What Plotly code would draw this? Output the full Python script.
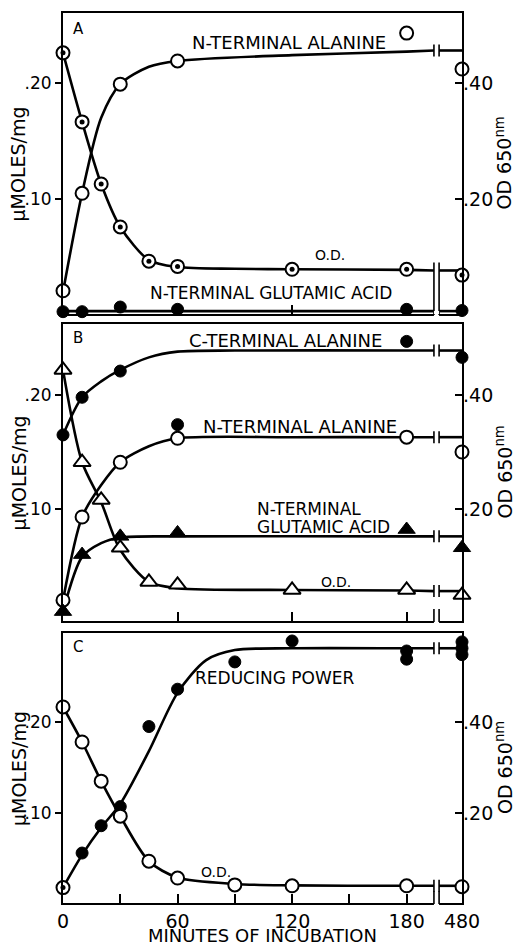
import plotly.graph_objects as go

# ---------------- data (minutes of incubation, µmoles/mg or OD650) ----------------
# Panel A
A_ALA_T = [0, 10, 30, 60, 180, 480]
A_ALA_V = [0.021, 0.105, 0.199, 0.219, 0.243, 0.212]
A_OD_T = [0, 10, 20, 30, 45, 60, 120, 180, 480]
A_OD_V = [0.452, 0.333, 0.226, 0.152, 0.093, 0.084, 0.079, 0.079, 0.069]
A_GLU_T = [0, 10, 30, 60, 180, 480]
A_GLU_V = [0.003, 0.003, 0.007, 0.005, 0.005, 0.004]
# drawn curves panel A
A_ALA_FIT_T = [0, 10, 20, 30, 45, 60, 120, 180]
A_ALA_FIT_V = [0.020, 0.105, 0.170, 0.199, 0.214, 0.219, 0.224, 0.227]
A_ALA_FIT_480 = 0.228
A_OD_FIT_T = [0, 10, 20, 30, 45, 60, 90, 120, 180]
A_OD_FIT_V = [0.452, 0.333, 0.226, 0.152, 0.095, 0.083, 0.080, 0.079, 0.078]
A_OD_FIT_480 = 0.077
A_GLU_FIT_T = [0, 180]
A_GLU_FIT_V = [0.0035, 0.0035]
A_GLU_FIT_480 = 0.0035

# Panel B
B_CALA_T = [0, 10, 30, 60, 180, 480]
B_CALA_V = [0.165, 0.198, 0.221, 0.174, 0.247, 0.233]
B_NALA_T = [0, 10, 30, 60, 180, 480]
B_NALA_V = [0.020, 0.093, 0.141, 0.162, 0.163, 0.150]
B_GLU_T = [0, 10, 30, 60, 180, 480]
B_GLU_V = [0.010, 0.060, 0.076, 0.079, 0.082, 0.066]
B_OD_T = [0, 10, 20, 30, 45, 60, 120, 180, 480]
B_OD_V = [0.444, 0.282, 0.216, 0.132, 0.072, 0.067, 0.058, 0.058, 0.049]
B_CALA_FIT_T = [0, 10, 20, 30, 45, 60, 90, 180]
B_CALA_FIT_V = [0.165, 0.198, 0.212, 0.222, 0.233, 0.238, 0.239, 0.239]
B_CALA_FIT_480 = 0.239
B_NALA_FIT_T = [0, 10, 20, 30, 45, 60, 120, 180]
B_NALA_FIT_V = [0.020, 0.093, 0.121, 0.141, 0.155, 0.162, 0.163, 0.163]
B_NALA_FIT_480 = 0.163
B_GLU_FIT_T = [0, 10, 20, 30, 60, 180]
B_GLU_FIT_V = [0.010, 0.058, 0.070, 0.075, 0.076, 0.076]
B_GLU_FIT_480 = 0.076
B_OD_FIT_T = [0, 10, 20, 30, 45, 60, 120, 180]
B_OD_FIT_V = [0.444, 0.282, 0.212, 0.128, 0.072, 0.061, 0.058, 0.057]
B_OD_FIT_480 = 0.056

# Panel C
C_RP_T = [0, 10, 20, 30, 45, 60, 90, 120, 180, 180, 480, 480, 480]
C_RP_V = [0.018, 0.056, 0.086, 0.107, 0.195, 0.236, 0.266, 0.289, 0.278, 0.269, 0.288, 0.281, 0.274]
C_OD_T = [0, 10, 20, 30, 45, 60, 90, 120, 180, 480]
C_OD_V = [0.433, 0.356, 0.270, 0.193, 0.094, 0.057, 0.042, 0.040, 0.040, 0.038]
C_RP_FIT_T = [0, 10, 20, 30, 45, 60, 75, 90, 120, 180]
C_RP_FIT_V = [0.018, 0.054, 0.084, 0.110, 0.168, 0.232, 0.268, 0.279, 0.281, 0.281]
C_RP_FIT_480 = 0.281
C_OD_FIT_T = [0, 10, 20, 30, 45, 60, 90, 120, 180]
C_OD_FIT_V = [0.433, 0.356, 0.270, 0.193, 0.094, 0.058, 0.044, 0.041, 0.040]
C_OD_FIT_480 = 0.040

X_TICK_MIN = [0, 60, 120, 180, 480]
X_TICK_LABELS = ["0", "60", "120", "180", "480"]
X_MINOR_MIN = [30, 90, 150]

# ---------------- broken x axis mapping ----------------
X480 = 209.0          # position of the 480-min point on the compressed axis
BREAK_L, BREAK_R = 194.3, 197.0


def xp(t):
    return t if t <= 180 else X480


FONT = "DejaVu Sans"
fig = go.Figure()

OPEN_C = dict(symbol="circle", color="white", size=13, line=dict(color="black", width=2))
FILL_C = dict(symbol="circle", color="black", size=12, line=dict(color="black", width=1))
OPEN_T = dict(symbol="triangle-up", color="white", size=15, line=dict(color="black", width=2))
FILL_T = dict(symbol="triangle-up", color="black", size=15, line=dict(color="black", width=1))


def curve(xa, ya, t, v, v480):
    xs = [xp(a) for a in t] + [BREAK_L]
    ys = list(v) + [v480]
    fig.add_trace(go.Scatter(x=xs, y=ys, xaxis=xa, yaxis=ya, mode="lines",
                             line=dict(color="black", width=2.6, shape="spline", smoothing=0.8),
                             hoverinfo="skip", cliponaxis=False))
    fig.add_trace(go.Scatter(x=[BREAK_R, X480], y=[v480, v480], xaxis=xa, yaxis=ya, mode="lines",
                             line=dict(color="black", width=2.6), hoverinfo="skip", cliponaxis=False))


def points(xa, ya, t, v, marker, dot=False):
    fig.add_trace(go.Scatter(x=[xp(a) for a in t], y=v, xaxis=xa, yaxis=ya, mode="markers",
                             marker=marker, cliponaxis=False))
    if dot:
        fig.add_trace(go.Scatter(x=[xp(a) for a in t], y=v, xaxis=xa, yaxis=ya, mode="markers",
                                 marker=dict(symbol="circle", color="black", size=5),
                                 cliponaxis=False))


shapes = []


def line_break(xa, ya, yval, lo=-6, hi=6):
    for bx in (BREAK_L, BREAK_R):
        shapes.append(dict(type="line", xref=xa, yref=ya, x0=bx, x1=bx, ysizemode="pixel",
                           yanchor=yval, y0=lo, y1=hi, line=dict(color="black", width=1.6),
                           layer="above"))


def axis_break(xa, ya, hi=12):
    shapes.append(dict(type="rect", xref=xa, yref=ya + " domain", x0=BREAK_L, x1=BREAK_R,
                       ysizemode="pixel", yanchor=0, y0=-3, y1=3, fillcolor="white",
                       line=dict(width=0), layer="above"))
    for bx in (BREAK_L, BREAK_R):
        shapes.append(dict(type="line", xref=xa, yref=ya + " domain", x0=bx, x1=bx,
                           ysizemode="pixel", yanchor=0, y0=-1, y1=hi,
                           line=dict(color="black", width=1.6), layer="above"))


# Panel A (x, y left, y2 right)
curve("x", "y", A_ALA_FIT_T, A_ALA_FIT_V, A_ALA_FIT_480)
curve("x", "y2", A_OD_FIT_T, A_OD_FIT_V, A_OD_FIT_480)
curve("x", "y", A_GLU_FIT_T, A_GLU_FIT_V, A_GLU_FIT_480)
points("x", "y", A_GLU_T, A_GLU_V, FILL_C)
points("x", "y", A_ALA_T, A_ALA_V, OPEN_C)
points("x", "y2", A_OD_T, A_OD_V, OPEN_C, dot=True)
line_break("x", "y", A_ALA_FIT_480)
line_break("x", "y2", A_OD_FIT_480, lo=-46, hi=8)
axis_break("x", "y", hi=0)

# Panel B (x2, y3 left, y4 right)
curve("x2", "y3", B_CALA_FIT_T, B_CALA_FIT_V, B_CALA_FIT_480)
curve("x2", "y3", B_NALA_FIT_T, B_NALA_FIT_V, B_NALA_FIT_480)
curve("x2", "y3", B_GLU_FIT_T, B_GLU_FIT_V, B_GLU_FIT_480)
curve("x2", "y4", B_OD_FIT_T, B_OD_FIT_V, B_OD_FIT_480)
points("x2", "y3", B_CALA_T, B_CALA_V, FILL_C)
points("x2", "y3", B_NALA_T, B_NALA_V, OPEN_C)
points("x2", "y3", B_GLU_T, B_GLU_V, FILL_T)
points("x2", "y4", B_OD_T, B_OD_V, OPEN_T)
line_break("x2", "y3", B_CALA_FIT_480)
line_break("x2", "y3", B_NALA_FIT_480)
line_break("x2", "y3", B_GLU_FIT_480)
line_break("x2", "y4", B_OD_FIT_480)
axis_break("x2", "y3")

# Panel C (x3, y5 left, y6 right)
curve("x3", "y5", C_RP_FIT_T, C_RP_FIT_V, C_RP_FIT_480)
curve("x3", "y6", C_OD_FIT_T, C_OD_FIT_V, C_OD_FIT_480)
points("x3", "y5", C_RP_T[1:], C_RP_V[1:], FILL_C)
points("x3", "y5", C_RP_T[:1], C_RP_V[:1], OPEN_C, dot=True)
points("x3", "y6", C_OD_T, C_OD_V, OPEN_C)
line_break("x3", "y5", C_RP_FIT_480)
line_break("x3", "y6", C_OD_FIT_480)
axis_break("x3", "y5")

AX = dict(showgrid=False, zeroline=False, linecolor="black", linewidth=2,
          tickcolor="black", tickwidth=2, tickfont=dict(family=FONT, size=17, color="black"))


def xaxis(anchor, labels=False):
    d = dict(AX, domain=[0, 1], range=[0, X480], anchor=anchor, showline=True, mirror=True,
             ticks="inside", ticklen=9)
    if labels:
        d.update(tickvals=[xp(t) for t in X_TICK_MIN], ticktext=X_TICK_LABELS,
                 tickfont=dict(family=FONT, size=19, color="black"),
                 minor=dict(tickvals=X_MINOR_MIN, ticks="inside", ticklen=9, tickwidth=2,
                            tickcolor="black", showgrid=False))
    else:
        d.update(tickvals=[60, 120, 180], showticklabels=False)
    return d


def yleft(domain, rng, anchor):
    return dict(AX, domain=domain, range=rng, anchor=anchor, showline=True, mirror=True,
                ticks="outside", ticklen=6, tickvals=[0.10, 0.20], ticktext=[".10", ".20"])


def yright(over, rng, anchor):
    return dict(AX, overlaying=over, side="right", range=rng, anchor=anchor, showline=False,
                ticks="inside", ticklen=7, tickvals=[0.20, 0.40], ticktext=[".20", ".40"],
                tickfont=dict(family=FONT, size=19, color="black"))


DA = [0.6618, 1.0]
DB = [0.3169, 0.6506]
DC = [0.0, 0.3034]

fig.update_layout(
    width=518, height=945,
    margin=dict(l=63, r=56, t=13, b=42),
    plot_bgcolor="white", paper_bgcolor="white", showlegend=False,
    font=dict(family=FONT, color="black"),
    xaxis=xaxis("y"), xaxis2=xaxis("y3"), xaxis3=xaxis("y5", labels=True),
    yaxis=yleft(DA, [0.001, 0.2603], "x"),
    yaxis2=yright("y", [0.002, 0.5207], "x"),
    yaxis3=yleft(DB, [0.0018, 0.2623], "x2"),
    yaxis4=yright("y3", [0.0036, 0.5246], "x2"),
    yaxis5=yleft(DC, [0.0011, 0.2978], "x3"),
    yaxis6=yright("y5", [0.0022, 0.5956], "x3"),
    shapes=shapes,
)

ann = []


def label(xa, ya, x, y, text, size=18, xanchor="center"):
    ann.append(dict(xref=xa, yref=ya, x=x, y=y, text=text, showarrow=False, xanchor=xanchor,
                    yanchor="middle", font=dict(family=FONT, size=size, color="black")))


label("x", "y", 7.9, 0.2466, "A", 15)
label("x", "y", 118.6, 0.2353, "N-TERMINAL ALANINE")
label("x", "y", 139.9, 0.0517, "O.D.", 14)
label("x", "y", 109.0, 0.019, "N-TERMINAL GLUTAMIC ACID", 17)

label("x2", "y3", 7.9, 0.250, "B", 15)
label("x2", "y3", 116.8, 0.248, "C-TERMINAL ALANINE")
label("x2", "y3", 124.1, 0.1728, "N-TERMINAL ALANINE")
label("x2", "y3", 100.6, 0.100, "N-TERMINAL", 17, xanchor="left")
label("x2", "y3", 100.6, 0.0842, "GLUTAMIC ACID", 17, xanchor="left")
label("x2", "y3", 143.0, 0.036, "O.D.", 14)

label("x3", "y5", 7.9, 0.2824, "C", 15)
label("x3", "y5", 110.8, 0.2484, "REDUCING POWER", 17)
label("x3", "y5", 80.1, 0.0352, "O.D.", 14)

for dom in (DA, DB, DC):
    mid = (dom[0] + dom[1]) / 2
    ann.append(dict(xref="paper", yref="paper", x=-0.1103, y=mid, text="μMOLES/mg",
                    textangle=-90, showarrow=False, xanchor="center", yanchor="middle",
                    font=dict(family=FONT, size=19, color="black")))
    ann.append(dict(xref="paper", yref="paper", x=1.1053, y=mid, text="OD 650<sup>nm</sup>",
                    textangle=-90, showarrow=False, xanchor="center", yanchor="middle",
                    font=dict(family=FONT, size=19, color="black")))

ann.append(dict(xref="paper", yref="paper", x=0.501, y=-0.0365, text="MINUTES OF INCUBATION",
                showarrow=False, xanchor="center", yanchor="middle",
                font=dict(family=FONT, size=18, color="black")))

fig.update_layout(annotations=ann)
fig.write_html("out.html")
